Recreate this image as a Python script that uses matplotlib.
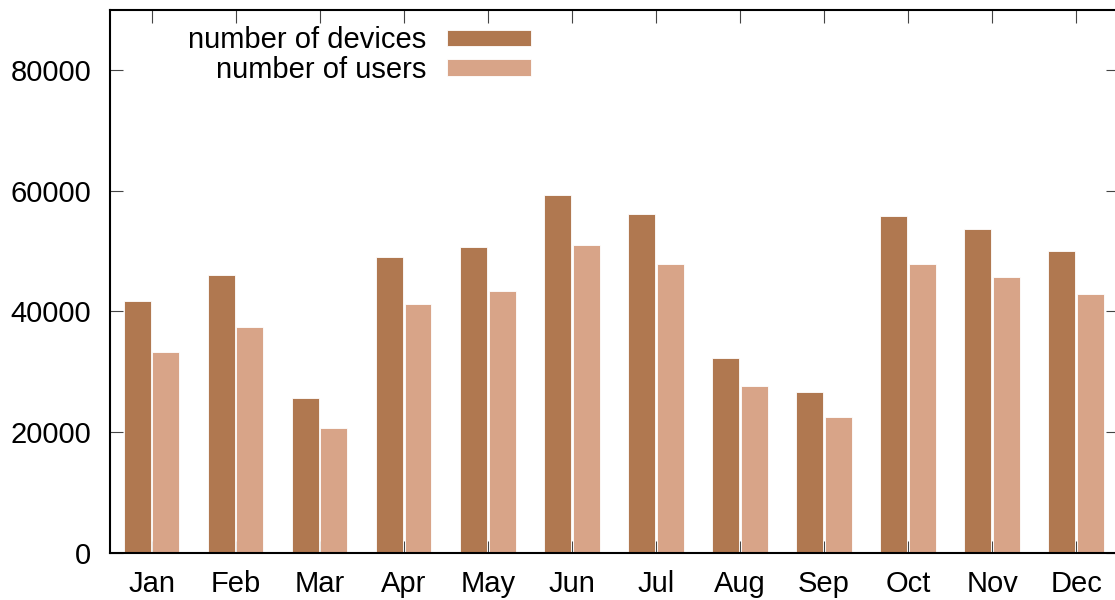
import numpy as np
import matplotlib
matplotlib.use("Agg")
import matplotlib.pyplot as plt

# monthly counts
months = ["Jan", "Feb", "Mar", "Apr", "May", "Jun",
          "Jul", "Aug", "Sep", "Oct", "Nov", "Dec"]
devices = [41700, 45970, 25570, 49060, 50660, 59240,
           56140, 32200, 26620, 55800, 53650, 50060]
users = [33250, 37400, 20700, 41160, 43370, 51000,
         47900, 27670, 22470, 47850, 45690, 42870]
y_ticks = [0, 20000, 40000, 60000, 80000]

plt.rcParams["font.family"] = ["Liberation Sans", "DejaVu Sans"]
plt.rcParams["font.size"] = 21

fig = plt.figure(figsize=(11.15, 6), dpi=100)
# gnuplot-like frame, right border runs just past the canvas edge
ax = fig.add_axes([109.5 / 1115, 47.5 / 600, 1008.7 / 1115, 542.5 / 600])

x = np.arange(len(months))
w = 0.32
ax.bar(x - 0.17, devices, width=w, color="#b07850", edgecolor="white",
       linewidth=0.6, label="number of devices", zorder=2)
ax.bar(x + 0.17, users, width=w, color="#d8a488", edgecolor="white",
       linewidth=0.6, label="number of users", zorder=2)

ax.set_xlim(-0.5, 11.5)
ax.set_ylim(0, 90000)
ax.set_xticks(x)
ax.set_xticklabels(months)
ax.set_yticks(y_ticks)

for s in ax.spines.values():
    s.set_linewidth(1.5)
    s.set_zorder(3)
ax.tick_params(axis="both", direction="in", length=9, width=0.8,
               top=True, right=True, colors="#444444", labelcolor="black")
ax.tick_params(axis="x", pad=12.5)
ax.tick_params(axis="y", pad=13)

ax.legend(loc="upper right", bbox_to_anchor=(531 / 1115, 0.956),
          bbox_transform=fig.transFigure, frameon=False, markerfirst=False,
          borderpad=0, borderaxespad=0, handlelength=2.88, handleheight=0.51,
          handletextpad=0.7, labelspacing=0.06)

fig.savefig("out.png", dpi=100)
